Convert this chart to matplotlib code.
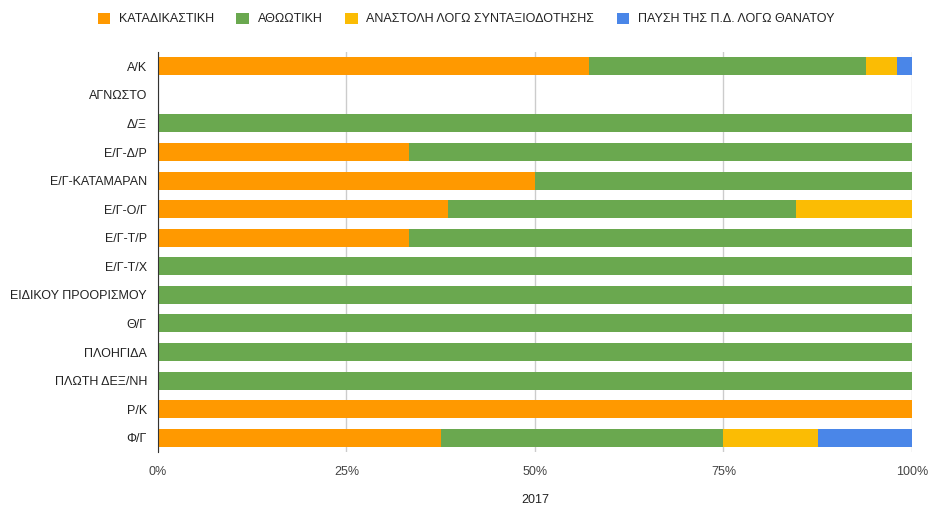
import matplotlib
matplotlib.use("Agg")
import matplotlib.pyplot as plt
import numpy as np

plt.rcParams['font.family'] = ['Liberation Sans', 'DejaVu Sans']

categories = ['Α/Κ', 'ΑΓΝΩΣΤΟ', 'Δ/Ξ', 'Ε/Γ-Δ/Ρ', 'Ε/Γ-ΚΑΤΑΜΑΡΑΝ', 'Ε/Γ-Ο/Γ', 'Ε/Γ-Τ/Ρ',
              'Ε/Γ-Τ/Χ', 'ΕΙΔΙΚΟΥ ΠΡΟΟΡΙΣΜΟΥ', 'Θ/Γ', 'ΠΛΟΗΓΙΔΑ', 'ΠΛΩΤΗ ΔΕΞ/ΝΗ', 'Ρ/Κ', 'Φ/Γ']
series_names = ['ΚΑΤΑΔΙΚΑΣΤΙΚΗ', 'ΑΘΩΩΤΙΚΗ', 'ΑΝΑΣΤΟΛΗ ΛΟΓΩ ΣΥΝΤΑΞΙΟΔΟΤΗΣΗΣ',
                'ΠΑΥΣΗ ΤΗΣ Π.Δ. ΛΟΓΩ ΘΑΝΑΤΟΥ']
katadikastiki = [28, 0, 0, 1, 1, 5, 1, 0, 0, 0, 0, 0, 1, 3]
athootiki     = [18, 0, 1, 2, 1, 6, 2, 1, 1, 1, 1, 1, 0, 3]
anastoli      = [2, 0, 0, 0, 0, 2, 0, 0, 0, 0, 0, 0, 0, 1]
pafsi         = [1, 0, 0, 0, 0, 0, 0, 0, 0, 0, 0, 0, 0, 1]
colors = ['#ff9900', '#6aa84f', '#fbbc04', '#4a86e8']

counts = np.array([katadikastiki, athootiki, anastoli, pafsi], dtype=float)
totals = counts.sum(axis=0)
shares = np.divide(counts, totals, out=np.zeros_like(counts), where=totals > 0)

fig = plt.figure(figsize=(9.29, 5.09), dpi=100)
ax = fig.add_axes([158/929, 1 - 452/509, 754/929, 400/509])

y = np.arange(len(categories))
left = np.zeros(len(categories))
for name, vals, col in zip(series_names, shares, colors):
    ax.barh(y, vals, left=left, height=0.63, color=col, label=name, zorder=3)
    left += vals

ax.set_ylim(len(categories) - 0.5, -0.5)
ax.set_xlim(0, 1)
ax.set_yticks(y)
ax.set_yticklabels(categories, fontsize=9, color='#222222')
ax.set_xticks([0, 0.25, 0.5, 0.75, 1])
ax.set_xticklabels(['0%', '25%', '50%', '75%', '100%'], fontsize=9, color='#444444')
ax.tick_params(length=0, pad=8)
ax.tick_params(axis='x', pad=10)
ax.grid(axis='x', color='#cccccc', lw=1, zorder=0)
for s in ['top', 'right', 'bottom']:
    ax.spines[s].set_visible(False)
ax.spines['left'].set_color('#333333')
ax.spines['left'].set_zorder(4)

# x axis title
fig.text(535/929, 1 - 500/509, '2017', ha='center', va='center', fontsize=9, color='#222222')

fig.legend(loc='center', bbox_to_anchor=(466/929, 1 - 19/509), ncol=4, frameon=False,
           fontsize=9, handlelength=1.0, handleheight=1.0, handletextpad=0.7,
           columnspacing=1.8, labelcolor='#222222')

fig.savefig('out.png', dpi=100)
